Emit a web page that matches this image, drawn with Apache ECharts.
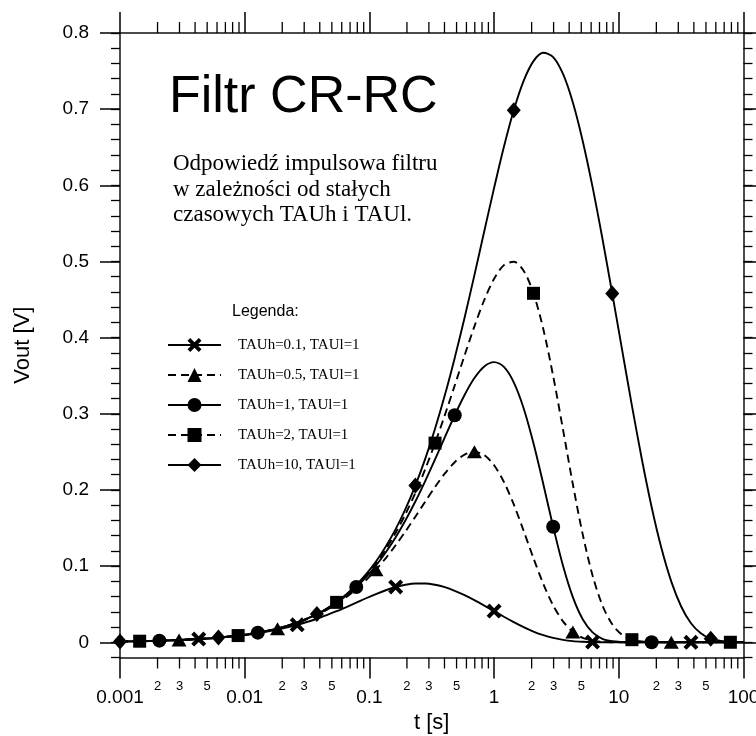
<!DOCTYPE html>
<html><head><meta charset="utf-8">
<script src="https://cdn.jsdelivr.net/npm/echarts@6/dist/echarts.min.js"></script>
<style>html,body{margin:0;padding:0;background:#fff}#c{width:756px;height:736px}</style>
</head><body><div id="c"></div>
<script>
// ---- data ----
const tValues = [0.001, 0.001438, 0.002069, 0.002976, 0.004281, 0.006159, 0.008859, 0.01274, 0.01833, 0.02637,
  0.03793, 0.04549, 0.05456, 0.06544, 0.07848, 0.09413, 0.1129, 0.1354, 0.1624, 0.1948,
  0.2336, 0.2802, 0.336, 0.403, 0.4833, 0.5797, 0.6952, 0.8338, 1, 1.199,
  1.438, 1.725, 2.069, 2.482, 2.976, 3.57, 4.281, 5.135, 6.159, 7.387,
  8.859, 10.63, 12.74, 15.28, 18.33, 21.99, 26.37, 31.63, 37.93, 45.49,
  54.56, 78.48, 100];

const vTauh01 = [0.001, 0.0014, 0.0020, 0.0029, 0.0042, 0.0060, 0.0084, 0.0119, 0.0166, 0.0229,
  0.0309, 0.0357, 0.0408, 0.0463, 0.0520, 0.0578, 0.0633, 0.0683, 0.0726, 0.0756,
  0.0772, 0.0772, 0.0755, 0.0723, 0.0676, 0.0619, 0.0553, 0.0482, 0.0409, 0.0335,
  0.0264, 0.0198, 0.0140, 0.0093, 0.0057, 0.0031, 0.0015, 0.0007, 0.0002, 0.0001,
  0, 0, 0, 0, 0, 0, 0, 0, 0, 0,
  0, 0, 0];

const vTauh05 = [0.001, 0.0014, 0.0021, 0.0030, 0.0043, 0.0061, 0.0087, 0.0125, 0.0178, 0.0253,
  0.0358, 0.0425, 0.0503, 0.0593, 0.0698, 0.0818, 0.0953, 0.1106, 0.1274, 0.1457,
  0.1649, 0.1846, 0.2039, 0.2217, 0.2364, 0.2464, 0.2500, 0.2457, 0.2325, 0.2105,
  0.1810, 0.1464, 0.1103, 0.0766, 0.0484, 0.0274, 0.0136, 0.0059, 0.0021, 0.0006,
  0.0001, 0, 0, 0, 0, 0, 0, 0, 0, 0,
  0, 0, 0];

const vTauh1 = [0.001, 0.0014, 0.0021, 0.0030, 0.0043, 0.0061, 0.0088, 0.0126, 0.0180, 0.0257,
  0.0365, 0.0435, 0.0517, 0.0613, 0.0726, 0.0857, 0.1008, 0.1182, 0.1380, 0.1603,
  0.1849, 0.2117, 0.2401, 0.2693, 0.2981, 0.3247, 0.3469, 0.3622, 0.3679, 0.3615,
  0.3413, 0.3073, 0.2613, 0.2075, 0.1517, 0.1005, 0.0592, 0.0302, 0.0130, 0.0046,
  0.0013, 0.0003, 0, 0, 0, 0, 0, 0, 0, 0,
  0, 0, 0];

const vTauh2 = [0.001, 0.0014, 0.0021, 0.0030, 0.0043, 0.0061, 0.0088, 0.0126, 0.0181, 0.0259,
  0.0369, 0.0440, 0.0524, 0.0623, 0.0740, 0.0877, 0.1037, 0.1223, 0.1438, 0.1684,
  0.1961, 0.2272, 0.2615, 0.2984, 0.3372, 0.3766, 0.4148, 0.4494, 0.4773, 0.4952,
  0.4997, 0.4879, 0.4582, 0.4111, 0.3496, 0.2793, 0.2075, 0.1417, 0.0878, 0.0485,
  0.0236, 0.0098, 0.0034, 0.0010, 0.0002, 0, 0, 0, 0, 0,
  0, 0, 0];

const vTauh10 = [0.001, 0.0014, 0.0021, 0.0030, 0.0043, 0.0061, 0.0088, 0.0127, 0.0181, 0.0260,
  0.0371, 0.0444, 0.0530, 0.0631, 0.0752, 0.0894, 0.1061, 0.1258, 0.1486, 0.1752,
  0.2058, 0.2408, 0.2804, 0.3246, 0.3734, 0.4262, 0.4821, 0.5396, 0.5966, 0.6507,
  0.6986, 0.7371, 0.7631, 0.7740, 0.7684, 0.7462, 0.7088, 0.6583, 0.5979, 0.5302,
  0.4580, 0.3840, 0.3107, 0.2410, 0.1777, 0.1233, 0.0796, 0.0470, 0.0250, 0.0118,
  0.0047, 0.0004, 0.0001];

// t positions where the markers sit
const markTauh01 = [0.004281, 0.02637, 0.1624, 1, 6.159, 37.93];
const markTauh05 = [0.002976, 0.01833, 0.1129, 0.6952, 4.281, 26.37];
const markTauh1  = [0.002069, 0.01274, 0.07848, 0.4833, 2.976, 18.33];
const markTauh2  = [0.001438, 0.008859, 0.05456, 0.336, 2.069, 12.74, 78.48];
const markTauh10 = [0.001, 0.006159, 0.03793, 0.2336, 1.438, 8.859, 54.56];

const seriesNames = ['TAUh=0.1, TAUl=1', 'TAUh=0.5, TAUl=1', 'TAUh=1, TAUl=1', 'TAUh=2, TAUl=1', 'TAUh=10, TAUl=1'];

const yTickValues = [0, 0.1, 0.2, 0.3, 0.4, 0.5, 0.6, 0.7, 0.8];
const xMinorTicks = [0.002,0.003,0.004,0.005,0.006,0.007,0.008,0.009,
  0.02,0.03,0.04,0.05,0.06,0.07,0.08,0.09,
  0.2,0.3,0.4,0.5,0.6,0.7,0.8,0.9,
  2,3,4,5,6,7,8,9,
  20,30,40,50,60,70,80,90];
const xMinorLabels = [0.002,0.003,0.005, 0.02,0.03,0.05, 0.2,0.3,0.5, 2,3,5, 20,30,50];

const titleText = 'Filtr CR-RC';
const descLines = ['Odpowiedź impulsowa filtru', 'w zależności od stałych', 'czasowych TAUh i TAUl.'];
const legendTitle = 'Legenda:';

// ---- chart ----
const Y_MIN = -0.02, Y_MAX = 0.8, X_MIN = 0.001, X_MAX = 100;
const SANS = '"Liberation Sans", Arial, sans-serif';
const SERIF = '"Liberation Serif", "Times New Roman", serif';
const INK = '#000';

const valueSets = [vTauh01, vTauh05, vTauh1, vTauh2, vTauh10];
const markSets = [markTauh01, markTauh05, markTauh1, markTauh2, markTauh10];
const symbols = [
  'path://M0,2.7L2.7,0L7,4.3L11.3,0L14,2.7L9.7,7L14,11.3L11.3,14L7,9.7L2.7,14L0,11.3L4.3,7Z',
  'triangle', 'circle', 'rect', 'diamond'
];
const symbolSizes = [15, [15, 13], 14, 13, [14, 16]];
const dashed = [false, true, false, true, false];

const series = [];
valueSets.forEach((vals, k) => {
  series.push({
    name: seriesNames[k], type: 'line',
    data: tValues.map((t, i) => [t, vals[i]]),
    showSymbol: false, symbol: symbols[k], symbolSize: 14,
    smooth: 0.3, silent: true, z: 2,
    lineStyle: { color: INK, width: 1.9, type: dashed[k] ? [8, 5] : 'solid' },
    itemStyle: { color: INK }
  });
});
valueSets.forEach((vals, k) => {
  series.push({
    name: 'marks' + k, type: 'scatter',
    data: tValues.map((t, i) => [t, vals[i]]).filter(p => markSets[k].includes(p[0])),
    symbol: symbols[k], symbolSize: symbolSizes[k], silent: true, z: 3,
    itemStyle: { color: INK, opacity: 1 }
  });
});
// minor ticks of the logarithmic axes (bottom and top), placed through the axis scale
series.push({
  type: 'custom', name: 'minorTicks', silent: true, clip: false, z: 1,
  data: xMinorTicks.map(t => [t, 0]),
  renderItem: (params, api) => {
    const t = api.value(0);
    const b = api.coord([t, Y_MIN]);
    const tp = api.coord([t, Y_MAX]);
    return { type: 'group', children: [
      { type: 'line', shape: { x1: b[0], y1: b[1], x2: b[0], y2: b[1] + 11 }, style: { stroke: INK, lineWidth: 1.3 } },
      { type: 'line', shape: { x1: tp[0], y1: tp[1], x2: tp[0], y2: tp[1] - 11 }, style: { stroke: INK, lineWidth: 1.3 } }
    ]};
  }
});
series.push({
  type: 'custom', name: 'minorLabels', silent: true, clip: false, z: 1,
  data: xMinorLabels.map(t => [t, 0]),
  renderItem: (params, api) => {
    const t = api.value(0);
    const b = api.coord([t, Y_MIN]);
    const mant = Math.round(t / Math.pow(10, Math.floor(Math.log10(t) + 1e-9)));
    return { type: 'text', x: b[0], y: b[1] + 29,
      style: { text: String(mant), font: '13px ' + SANS, fill: INK, align: 'center', verticalAlign: 'middle',
               textAlign: 'center', textVerticalAlign: 'middle' } };
  }
});

const axisLineStyle = { color: '#111', width: 1.5 };
const fmtX = v => String(Number(Number(v).toPrecision(6)));

const option = {
  animation: false,
  backgroundColor: '#fff',
  textStyle: { fontFamily: SANS },
  grid: { left: 120, right: 12.5, top: 33, bottom: 78.5, containLabel: false, outerBoundsMode: 'none' },
  xAxis: [
    { type: 'log', logBase: 10, min: X_MIN, max: X_MAX, position: 'bottom',
      name: 't [s]', nameLocation: 'middle', nameGap: 45,
      nameTextStyle: { fontSize: 22, color: INK, fontFamily: SANS },
      axisLine: { show: true, onZero: false, lineStyle: axisLineStyle },
      axisTick: { show: true, inside: false, length: 21, lineStyle: { color: INK, width: 1.5 } },
      minorTick: { show: false },
      axisLabel: { show: true, margin: 31, fontSize: 19, color: INK, fontFamily: SANS, formatter: fmtX, hideOverlap: false },
      splitLine: { show: false }, minorSplitLine: { show: false } },
    { type: 'log', logBase: 10, min: X_MIN, max: X_MAX, position: 'top',
      axisLine: { show: true, onZero: false, lineStyle: axisLineStyle },
      axisTick: { show: true, inside: false, length: 21, lineStyle: { color: INK, width: 1.5 } },
      axisLabel: { show: false }, splitLine: { show: false } }
  ],
  yAxis: [
    { type: 'value', min: Y_MIN, max: Y_MAX, position: 'left',
      name: 'Vout [V]', nameLocation: 'middle', nameGap: 86, nameRotate: 90,
      nameTextStyle: { fontSize: 22, color: INK, fontFamily: SANS },
      axisLine: { show: true, onZero: false, lineStyle: axisLineStyle },
      axisTick: { show: true, inside: false, length: 20, customValues: yTickValues, lineStyle: { color: INK, width: 1.5 } },
      axisLabel: { show: true, margin: 31, fontSize: 19, color: INK, fontFamily: SANS, customValues: yTickValues,
                   formatter: v => String(Math.round(v * 10) / 10) },
      splitLine: { show: false } },
    { type: 'value', min: Y_MIN, max: Y_MAX, interval: 0.02, position: 'left',
      axisLine: { show: false, onZero: false },
      axisTick: { show: true, inside: false, length: 9, lineStyle: { color: INK, width: 1.3 } },
      axisLabel: { show: false }, splitLine: { show: false } },
    { type: 'value', min: Y_MIN, max: Y_MAX, position: 'right',
      axisLine: { show: true, onZero: false, lineStyle: axisLineStyle },
      axisTick: { show: true, inside: false, length: 20, customValues: yTickValues, lineStyle: { color: INK, width: 1.5 } },
      axisLabel: { show: false }, splitLine: { show: false } },
    { type: 'value', min: Y_MIN, max: Y_MAX, interval: 0.02, position: 'right',
      axisLine: { show: false, onZero: false },
      axisTick: { show: true, inside: false, length: 9, lineStyle: { color: INK, width: 1.3 } },
      axisLabel: { show: false }, splitLine: { show: false } }
  ],
  legend: {
    data: seriesNames, orient: 'vertical', left: 167, top: 337.5, padding: 0,
    itemWidth: 53, itemHeight: 17.5, itemGap: 15, selectedMode: false,
    textStyle: { fontFamily: SERIF, fontSize: 15, color: INK, padding: [0, 0, 0, 12] }
  },
  graphic: [
    { type: 'text', x: 169, y: 98, silent: true,
      style: { text: titleText, font: '52px ' + SANS, fill: INK, textVerticalAlign: 'middle', verticalAlign: 'middle' } },
    ...descLines.map((line, i) => ({ type: 'text', x: 173, y: 164 + i * 25.7, silent: true,
      style: { text: line, font: '23px ' + SERIF, fill: INK, textVerticalAlign: 'middle', verticalAlign: 'middle' } })),
    { type: 'text', x: 232, y: 312, silent: true,
      style: { text: legendTitle, font: '16px ' + SANS, fill: INK, textVerticalAlign: 'middle', verticalAlign: 'middle' } }
  ],
  series: series
};

const chart = echarts.init(document.getElementById('c'), null, { renderer: 'canvas' });
chart.setOption(option);
</script>
</body></html>
